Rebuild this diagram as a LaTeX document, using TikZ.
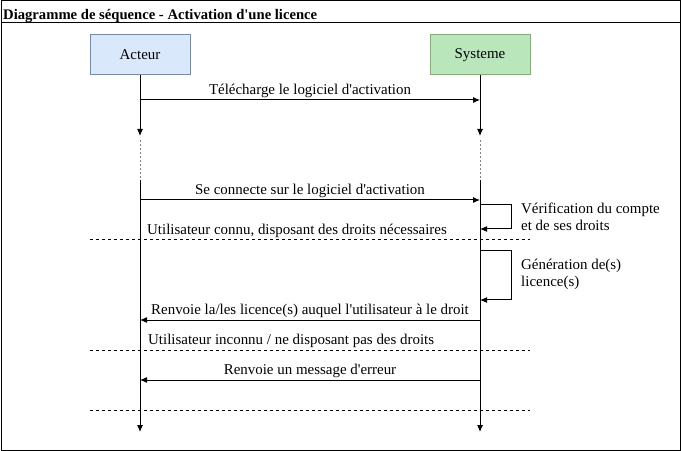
\documentclass[tikz,border=0pt]{standalone}
\usepackage{fontspec}
\setmainfont{Liberation Serif}[Ligatures=TeXOff]
\usetikzlibrary{positioning,arrows.meta}
\definecolor{acteurfill}{HTML}{DAE8FC}
\definecolor{acteurline}{HTML}{6C8EBF}
\definecolor{systfill}{HTML}{BAE6BC}
\definecolor{systline}{HTML}{82B366}
\tikzset{
    lifebox/.style={draw, line width=1bp, minimum width=100bp, minimum height=40bp},
    msg/.style={line width=1bp, -{Latex[length=7bp,width=6bp]}},
    etiquette/.style={inner sep=2bp},
    note/.style={anchor=west, align=left, inner sep=0pt, font=\fontsize{15}{17}\selectfont},
    separation/.style={line width=1bp, dash pattern=on 3bp off 3bp},
    trou/.style={line width=0.6bp, gray, dash pattern=on 2bp off 2bp}
}
\begin{document}
\begin{tikzpicture}[x=1bp, y=-1bp, font=\fontsize{15}{15}\selectfont]
    \useasboundingbox (0,0) rectangle (681,451);
    % cadre
    \draw[line width=1bp] (1,1) rectangle (680,450);
    \draw[line width=1bp] (1,23) -- (680,23);
    \node[anchor=base west, inner sep=0pt, font=\fontsize{14.7}{15}\selectfont\bfseries] (titre) at (3,19.5) {Diagramme de séquence - Activation d'une licence};
    % acteurs
    \node[lifebox, fill=acteurfill, draw=acteurline] (acteur)  at (140,55) {Acteur};
    \node[lifebox, fill=systfill,   draw=systline]   (systeme) at (480,55) {Systeme};
    % lignes de vie
    \coordinate (a1) at (140,136); \coordinate (a2) at (140,180); \coordinate (a3) at (140,432);
    \coordinate (s1) at (480,136); \coordinate (s2) at (480,180); \coordinate (s3) at (480,432);
    \draw[msg] (acteur)  -- (a1);
    \draw[msg] (systeme) -- (s1);
    \draw[trou] (a1) ++(0,4) -- (140,178);
    \draw[trou] (s1) ++(0,4) -- (480,178);
    \draw[msg] (a2) -- (a3);
    \draw[msg] (s2) -- (s3);
    % messages
    \coordinate (m1a) at (140,100); \coordinate (m1s) at (480,100);
    \draw[msg] (m1a) -- node[above, etiquette] (l1) {Télécharge le logiciel d'activation} (m1s);
    \coordinate (m2a) at (140,200); \coordinate (m2s) at (480,200);
    \draw[msg] (m2a) -- node[above, etiquette] (l2) {Se connecte sur le logiciel d'activation} (m2s);
    \coordinate (v1) at (480,205); \coordinate (v2) at (480,229);
    \draw[msg] (v1) -- ++(31,0) |- (v2);
    \node[note] (l3) at (521,217) {Vérification du compte\\et de ses droits};
    \coordinate (d1g) at (90,240); \coordinate (d1d) at (530,240);
    \draw[separation] (d1g) -- (d1d);
    \node[anchor=south west, etiquette] (l4) at (145,240) {Utilisateur connu, disposant des droits nécessaires};
    \coordinate (g1) at (480,251); \coordinate (g2) at (480,300);
    \draw[msg] (g1) -- ++(31,0) |- (g2);
    \node[note] (l5) at (521,274) {Génération de(s)\\licence(s)};
    \coordinate (m3s) at (480,320); \coordinate (m3a) at (140,320);
    \draw[msg] (m3s) -- node[above, etiquette] (l6) {Renvoie la/les licence(s) auquel l'utilisateur à le droit} (m3a);
    \coordinate (d2g) at (90,350); \coordinate (d2d) at (530,350);
    \draw[separation] (d2g) -- (d2d);
    \node[anchor=south west, etiquette] (l7) at (146,350) {Utilisateur inconnu / ne disposant pas des droits};
    \coordinate (m4s) at (480,380); \coordinate (m4a) at (140,380);
    \draw[msg] (m4s) -- node[above, etiquette] (l8) {Renvoie un message d'erreur} (m4a);
    \coordinate (d3g) at (90,410); \coordinate (d3d) at (530,410);
    \draw[separation] (d3g) -- (d3d);
\end{tikzpicture}
\end{document}
